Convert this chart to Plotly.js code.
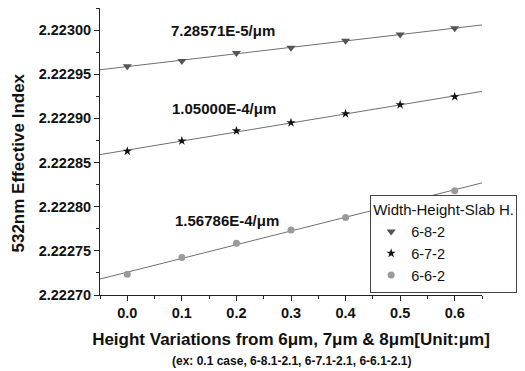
<!DOCTYPE html>
<html>
<head>
<meta charset="utf-8">
<script src="https://cdn.plot.ly/plotly-3.0.1.min.js"></script>
<style>html,body{margin:0;padding:0;background:#fff;}#chart{width:525px;height:371px;}</style>
</head>
<body>
<div id="chart"></div>
<script>
// Data
const heightVar = [0.0, 0.1, 0.2, 0.3, 0.4, 0.5, 0.6];
const idx682 = [2.222959, 2.222965, 2.222974, 2.222980, 2.222988, 2.222995, 2.223002];
const idx672 = [2.2228628, 2.2228745, 2.2228859, 2.2228951, 2.2229053, 2.2229155, 2.2229245];
const idx662 = [2.2227234, 2.2227426, 2.2227585, 2.2227735, 2.2227879, 2.2228037, 2.222818];
const seriesNames = ['6-8-2', '6-7-2', '6-6-2'];
const slopeLabels = ['7.28571E-5/\u03bcm', '1.05000E-4/\u03bcm', '1.56786E-4/\u03bcm'];
const fitRange = [-0.05, 0.65];

function linfit(xs, ys) {
  const n = xs.length;
  const mx = xs.reduce((a, b) => a + b, 0) / n;
  const my = ys.reduce((a, b) => a + b, 0) / n;
  let sxy = 0, sxx = 0;
  for (let i = 0; i < n; i++) { sxy += (xs[i] - mx) * (ys[i] - my); sxx += (xs[i] - mx) ** 2; }
  const b = sxy / sxx, a = my - b * mx;
  return fitRange.map(x => a + b * x);
}

const allY = [idx682, idx672, idx662];
const symbols = ['triangle-down', 'star', 'circle'];
const colors = ['#555555', '#111111', '#9a9a9a'];
const sizes = [8, 7, 7];

const traces = [];
allY.forEach((ys, i) => {
  traces.push({
    x: fitRange, y: linfit(heightVar, ys), mode: 'lines', showlegend: false,
    line: {color: '#707070', width: 1}, hoverinfo: 'skip'
  });
});
allY.forEach((ys, i) => {
  traces.push({
    x: heightVar, y: ys, mode: 'markers', name: seriesNames[i],
    marker: {symbol: symbols[i], color: colors[i], size: sizes[i], line: {width: 0}}
  });
});

const FONT = 'Liberation Sans, Arial, sans-serif';
const annPos = [[0.175, 2.22300], [0.178, 2.222911], [0.182, 2.222784]];
const annotations = slopeLabels.map((t, i) => ({
  x: annPos[i][0], y: annPos[i][1], xref: 'x', yref: 'y', text: '<b>' + t + '</b>',
  showarrow: false, font: {family: FONT, size: 15, color: '#111'}
}));
annotations.push({
  x: 0.5, y: (295 - 361) / 287, xref: 'paper', yref: 'paper', yanchor: 'middle',
  text: '<b>(ex: 0.1 case, 6-8.1-2.1, 6-7.1-2.1, 6-6.1-2.1)</b>',
  showarrow: false, font: {family: FONT, size: 12, color: '#111'}
});
// y-axis title, placed as the reference does (slightly below the plot centre)
annotations.push({
  x: (16 - 100) / 389, xref: 'paper', y: (295 - 163) / 287, yref: 'paper',
  xanchor: 'center', yanchor: 'middle',
  text: '<b>532nm Effective Index</b>', textangle: -90, showarrow: false,
  font: {family: FONT, size: 17, color: '#111'}
});

const layout = {
  width: 525, height: 371,
  margin: {l: 100, r: 36, t: 8, b: 76},
  paper_bgcolor: '#fff', plot_bgcolor: '#fff',
  font: {family: FONT, color: '#111'},
  showlegend: true,
  legend: {
    x: 1.092, xanchor: 'right', y: 0.007, yanchor: 'bottom',
    bgcolor: '#fff', bordercolor: '#444', borderwidth: 1,
    font: {family: FONT, size: 14.5, color: '#111'},
    title: {text: 'Width-Height-Slab H.', font: {family: FONT, size: 15, color: '#111'}},
    tracegroupgap: 0
  },
  xaxis: {
    range: [-0.05, 0.65], tick0: 0, dtick: 0.1, tickformat: '.1f',
    showgrid: false, zeroline: false, showline: true, linecolor: '#222', linewidth: 1,
    ticks: 'outside', ticklen: 5, tickcolor: '#222', tickwidth: 1,
    minor: {dtick: 0.05, ticks: 'outside', ticklen: 3, tickcolor: '#222'},
    tickfont: {family: FONT, size: 14.5, color: '#111', weight: 'bold'},
    title: {text: '<b>Height Variations from 6\u03bcm, 7\u03bcm &amp; 8\u03bcm[Unit:\u03bcm]</b>',
            font: {family: FONT, size: 17, color: '#111'}, standoff: 12}
  },
  yaxis: {
    range: [2.22270, 2.223025], tick0: 2.2227, dtick: 0.00005, tickformat: '.5f',
    showgrid: false, zeroline: false, showline: true, linecolor: '#222', linewidth: 1,
    ticks: 'outside', ticklen: 5, tickcolor: '#222', tickwidth: 1,
    minor: {dtick: 0.000025, ticks: 'outside', ticklen: 3, tickcolor: '#222'},
    tickfont: {family: FONT, size: 14.5, color: '#111', weight: 'bold'}
  },
  annotations: annotations
};

Plotly.newPlot('chart', traces, layout, {displayModeBar: false, staticPlot: true});
</script>
</body>
</html>
